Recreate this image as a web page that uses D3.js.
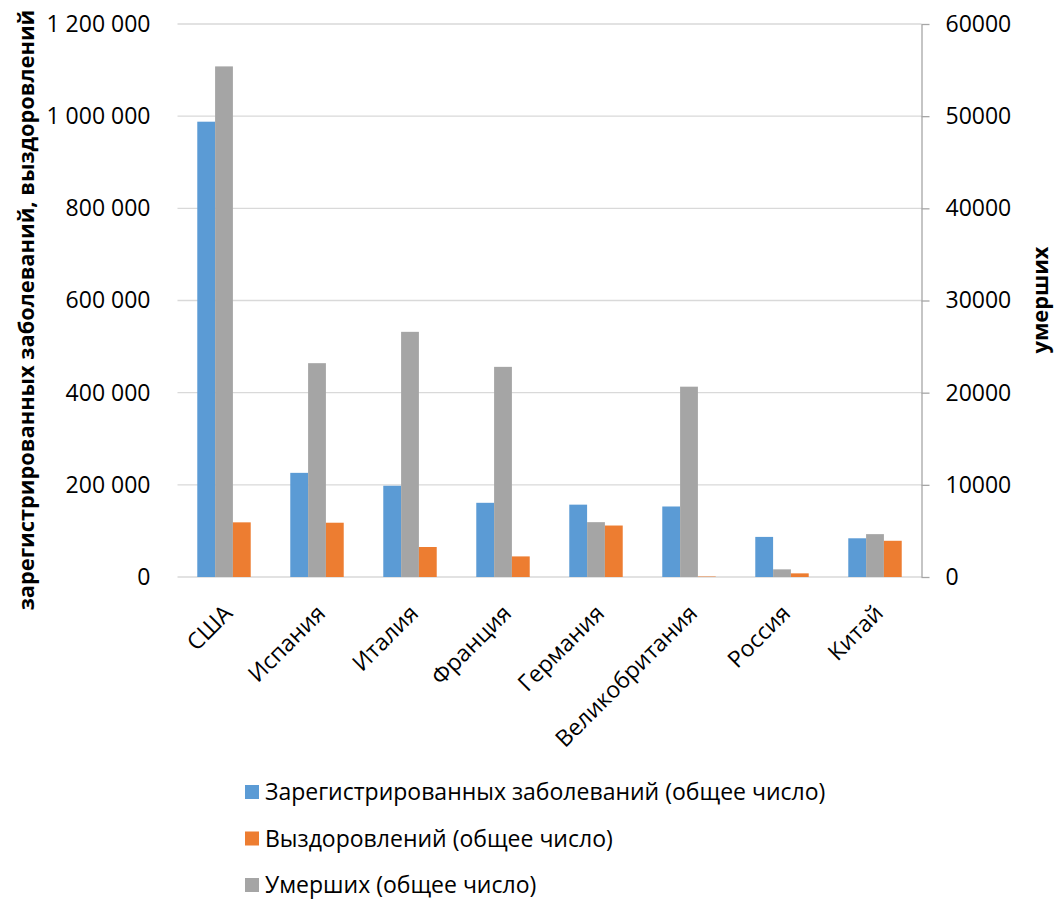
<!DOCTYPE html>
<html>
<head>
<meta charset="utf-8">
<script src="https://cdn.jsdelivr.net/npm/d3@7"></script>
<style>
  body { margin: 0; background: #fff; }
  text { font-family: "Open Sans", sans-serif; fill: #000; }
</style>
</head>
<body>
<div id="chart"></div>
<script>
// Data
const countries = ["США", "Испания", "Италия", "Франция", "Германия", "Великобритания", "Россия", "Китай"];
const cases = [988000, 226000, 198000, 161000, 157000, 153000, 87000, 84000];
const recovered = [118600, 117800, 65100, 44700, 111700, 1000, 7900, 78600];
const deaths = [55400, 23200, 26600, 22800, 5950, 20650, 830, 4650];
const leftTicks = [0, 200000, 400000, 600000, 800000, 1000000, 1200000];
const rightTicks = [0, 10000, 20000, 30000, 40000, 50000, 60000];

const seriesNames = {
  cases: "Зарегистрированных заболеваний (общее число)",
  recovered: "Выздоровлений (общее число)",
  deaths: "Умерших (общее число)",
};
const colors = { cases: "#5B9BD5", recovered: "#ED7D31", deaths: "#A5A5A5" };

const width = 1055;
const height = 901;
const plot = { left: 177.5, right: 921.5, top: 24, bottom: 577 };

const svg = d3
  .select("#chart")
  .append("svg")
  .attr("width", width)
  .attr("height", height);

// Scales
const x0 = d3.scaleBand().domain(countries).range([plot.left, plot.right]);
const x1 = d3
  .scaleBand()
  .domain(["cases", "deaths", "recovered"])
  .range([0, x0.bandwidth()])
  .paddingOuter(1.11);

const yLeft = d3.scaleLinear().domain([0, 1200000]).range([plot.bottom, plot.top]);
const yRight = d3.scaleLinear().domain([0, 60000]).range([plot.bottom, plot.top]);

// Gridlines
svg
  .append("g")
  .selectAll("line")
  .data(leftTicks)
  .enter()
  .append("line")
  .attr("x1", plot.left)
  .attr("x2", plot.right)
  .attr("y1", (d) => yLeft(d))
  .attr("y2", (d) => yLeft(d))
  .attr("stroke", "#D9D9D9")
  .attr("stroke-width", 1.3);

// Left axis (labels only)
const fmtSpace = (d) => d3.format(",")(d).replace(/,/g, " ");
const leftAxis = svg
  .append("g")
  .attr("transform", `translate(${plot.left},0)`)
  .call(d3.axisLeft(yLeft).tickValues(leftTicks).tickFormat(fmtSpace).tickSize(0).tickPadding(27));
leftAxis.select(".domain").remove();
leftAxis.selectAll("text").style("font-size", "23px").style("font-family", "Open Sans");

// Right axis
const rightAxis = svg
  .append("g")
  .attr("transform", `translate(${plot.right},0)`)
  .call(d3.axisRight(yRight).tickValues(rightTicks).tickFormat(d3.format("d")).tickSize(8).tickSizeOuter(0).tickPadding(16));
rightAxis.select(".domain").attr("stroke", "#A6A6A6").attr("stroke-width", 1.3);
rightAxis.selectAll(".tick line").attr("stroke", "#A6A6A6").attr("stroke-width", 1.3);
rightAxis.selectAll("text").style("font-size", "23px").style("font-family", "Open Sans");

// Bars
const groups = svg
  .append("g")
  .selectAll("g")
  .data(countries)
  .enter()
  .append("g")
  .attr("transform", (d) => `translate(${x0(d)},0)`);

groups
  .append("rect")
  .attr("x", x1("cases"))
  .attr("width", x1.bandwidth())
  .attr("y", (d, i) => yLeft(cases[i]))
  .attr("height", (d, i) => yLeft(0) - yLeft(cases[i]))
  .attr("fill", colors.cases);

groups
  .append("rect")
  .attr("x", x1("deaths"))
  .attr("width", x1.bandwidth())
  .attr("y", (d, i) => yRight(deaths[i]))
  .attr("height", (d, i) => yRight(0) - yRight(deaths[i]))
  .attr("fill", colors.deaths);

groups
  .append("rect")
  .attr("x", x1("recovered"))
  .attr("width", x1.bandwidth())
  .attr("y", (d, i) => yLeft(recovered[i]))
  .attr("height", (d, i) => yLeft(0) - yLeft(recovered[i]))
  .attr("fill", colors.recovered);

// Category labels, rotated
svg
  .append("g")
  .selectAll("text")
  .data(countries)
  .enter()
  .append("text")
  .attr("transform", (d) => `translate(${x0(d) + x0.bandwidth() / 2 - 2},603) rotate(-45)`)
  .attr("dy", "0.72em")
  .attr("text-anchor", "end")
  .style("font-size", "23px")
  .text((d) => d);

// Axis titles
svg
  .append("text")
  .attr("transform", "translate(26,310) rotate(-90)")
  .attr("dy", "0.35em")
  .attr("text-anchor", "middle")
  .style("font-size", "21.8px")
  .style("font-weight", "bold")
  .text("зарегистрированных заболеваний, выздоровлений");

svg
  .append("text")
  .attr("transform", "translate(1040,300) rotate(-90)")
  .attr("dy", "0.35em")
  .attr("text-anchor", "middle")
  .style("font-size", "21.8px")
  .style("font-weight", "bold")
  .text("умерших");

// Legend
const legendKeys = ["cases", "recovered", "deaths"];
const legend = svg
  .append("g")
  .selectAll("g")
  .data(legendKeys)
  .enter()
  .append("g")
  .attr("transform", (d, i) => `translate(245,${792 + i * 46.5})`);

legend
  .append("rect")
  .attr("x", 0)
  .attr("y", -7)
  .attr("width", 14)
  .attr("height", 14)
  .attr("fill", (d) => colors[d]);

legend
  .append("text")
  .attr("x", 20)
  .attr("dy", "0.35em")
  .style("font-size", "23px")
  .text((d) => seriesNames[d]);
</script>
</body>
</html>
